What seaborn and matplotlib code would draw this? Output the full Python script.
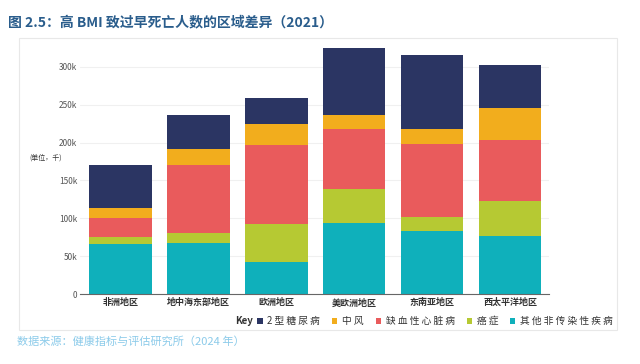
import matplotlib
matplotlib.use('Agg')
import seaborn as sns
import matplotlib.pyplot as plt
import pandas as pd
from matplotlib.patches import Rectangle, Patch

# Data (thousands of deaths)
regions = ['非洲地区', '地中海东部地区', '欧洲地区', '美欧洲地区', '东南亚地区', '西太平洋地区']
other_ncd = [66, 67, 42, 94, 83, 77]
cancer = [9, 13, 50, 45, 19, 46]
ihd = [26, 90, 105, 79, 96, 81]
stroke = [13, 21, 27, 18, 20, 41]
diabetes = [57, 45, 35, 89, 98, 57]

series_names = ['2 型 糖 尿 病', '中 风', '缺 血 性 心 脏 病', '癌 症', '其 他 非 传 染 性 疾 病']
colors = ['#2b3563', '#f2ad1d', '#e95b5c', '#b6c933', '#0fb0bb']

sns.set_theme(style='white')
plt.rcParams['font.family'] = ['Noto Sans CJK SC', 'DejaVu Sans']

df = pd.DataFrame({'region': regions, 'other': other_ncd, 'cancer': cancer,
                   'ihd': ihd, 'stroke': stroke, 'diabetes': diabetes})
# cumulative heights, drawn from the tallest layer down
df['c_other'] = df['other']
df['c_cancer'] = df['c_other'] + df['cancer']
df['c_ihd'] = df['c_cancer'] + df['ihd']
df['c_stroke'] = df['c_ihd'] + df['stroke']
df['c_diabetes'] = df['c_stroke'] + df['diabetes']

fig = plt.figure(figsize=(6.4, 3.64), dpi=100)
ax = fig.add_axes([0.125, 0.192, 0.733, 0.687])

for col, color in zip(['c_diabetes', 'c_stroke', 'c_ihd', 'c_cancer', 'c_other'], colors):
    sns.barplot(data=df, x='region', y=col, color=color, width=0.8,
                saturation=1, ax=ax, linewidth=0)

ax.set_ylim(0, 330)
ax.set_xlim(-0.52, 5.5)
ax.set_yticks([0, 50, 100, 150, 200, 250, 300])
ax.set_yticklabels(['0', '50k', '100k', '150k', '200k', '250k', '300k'])
ax.set_xlabel('')
ax.set_ylabel('')
ax.yaxis.grid(True, color='#f0f0f0', linewidth=0.8)
ax.set_axisbelow(True)
for s in ['top', 'right', 'left']:
    ax.spines[s].set_visible(False)
ax.spines['bottom'].set_color('#666666')
ax.spines['bottom'].set_linewidth(0.8)
ax.tick_params(axis='y', length=0, labelsize=6, labelcolor='#555555', pad=2)
ax.tick_params(axis='x', length=0, labelsize=6.5, labelcolor='#333333', pad=3)
for lbl in ax.get_xticklabels():
    lbl.set_fontweight('bold')

# frame around chart
fig.patches.append(Rectangle((0.030, 0.093), 0.934, 0.803, transform=fig.transFigure,
                             fill=False, edgecolor='#e8e8e8', linewidth=0.8))

fig.text(0.012, 0.938, '图 2.5：高 BMI 致过早死亡人数的区域差异（2021）',
         fontsize=10, fontweight='bold', color='#2a5d8c', va='center')
fig.text(0.046, 0.568, '(单位，千)', fontsize=5, color='#333333', va='center')

fig.text(0.367, 0.118, 'Key', fontsize=7, fontweight='bold', color='#333333', va='center')
handles = [Patch(facecolor=c, edgecolor='none') for c in colors]
fig.legend(handles, series_names, loc='center left', bbox_to_anchor=(0.402, 0.118),
           ncol=5, frameon=False, fontsize=7, handlelength=0.55, handleheight=0.55,
           handletextpad=0.5, columnspacing=1.2, borderpad=0, borderaxespad=0,
           labelcolor='#333333')

fig.text(0.026, 0.063, '数据来源：健康指标与评估研究所（2024 年）',
         fontsize=8, color='#8ccbea', va='center')

fig.savefig('out.png', dpi=100)
